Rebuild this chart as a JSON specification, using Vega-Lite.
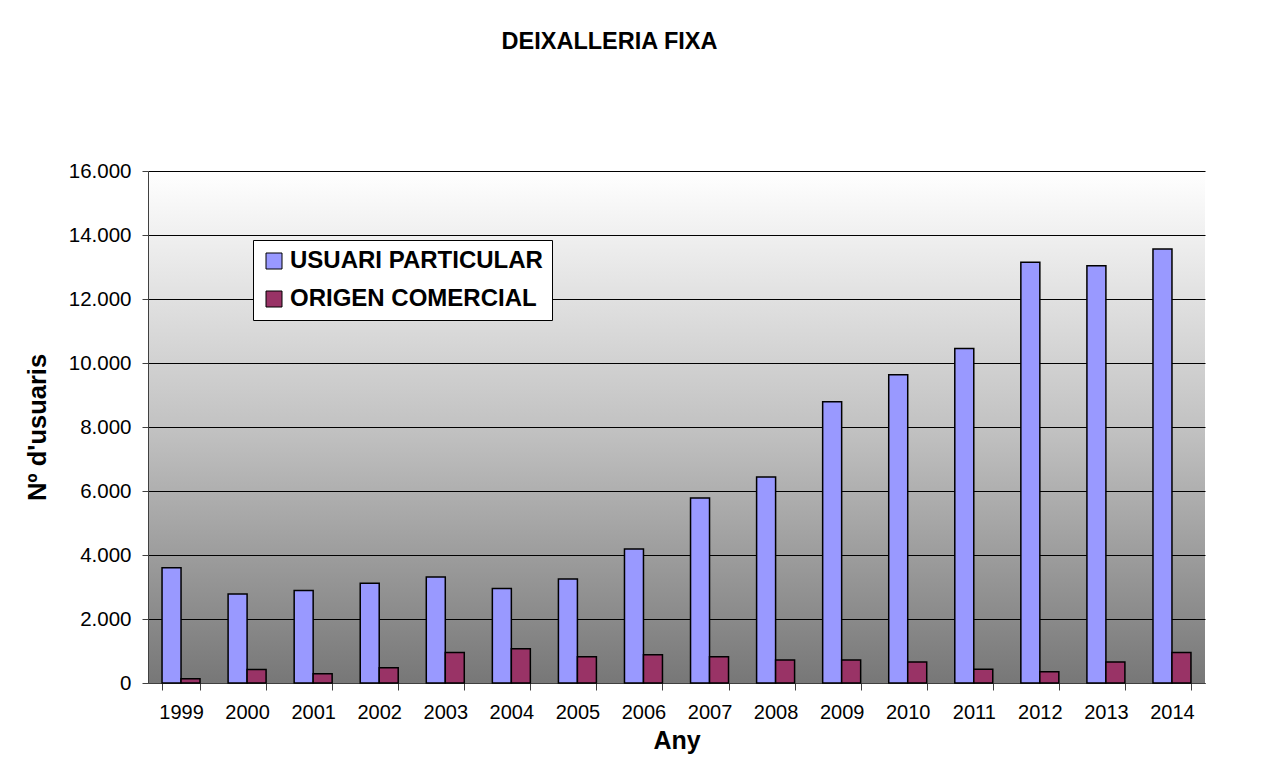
{
  "$schema": "https://vega.github.io/schema/vega-lite/v6.json",
  "width": 1057,
  "height": 512,
  "autosize": {"type": "none"},
  "padding": {"left": 148, "top": 171, "right": 74, "bottom": 80},
  "background": "#ffffff",
  "title": {
    "text": "DEIXALLERIA FIXA",
    "font": "Liberation Sans",
    "fontSize": 23.5,
    "fontWeight": "bold",
    "color": "#000000",
    "anchor": "middle",
    "frame": "group",
    "dx": -67,
    "baseline": "bottom",
    "offset": 84
  },
  "data": {
    "values": [
      {"Any": "1999", "tipus": "USUARI PARTICULAR", "usuaris": 3600},
      {"Any": "1999", "tipus": "ORIGEN COMERCIAL", "usuaris": 130},
      {"Any": "2000", "tipus": "USUARI PARTICULAR", "usuaris": 2780},
      {"Any": "2000", "tipus": "ORIGEN COMERCIAL", "usuaris": 420},
      {"Any": "2001", "tipus": "USUARI PARTICULAR", "usuaris": 2890},
      {"Any": "2001", "tipus": "ORIGEN COMERCIAL", "usuaris": 290},
      {"Any": "2002", "tipus": "USUARI PARTICULAR", "usuaris": 3120},
      {"Any": "2002", "tipus": "ORIGEN COMERCIAL", "usuaris": 480},
      {"Any": "2003", "tipus": "USUARI PARTICULAR", "usuaris": 3310},
      {"Any": "2003", "tipus": "ORIGEN COMERCIAL", "usuaris": 950},
      {"Any": "2004", "tipus": "USUARI PARTICULAR", "usuaris": 2950},
      {"Any": "2004", "tipus": "ORIGEN COMERCIAL", "usuaris": 1070},
      {"Any": "2005", "tipus": "USUARI PARTICULAR", "usuaris": 3250},
      {"Any": "2005", "tipus": "ORIGEN COMERCIAL", "usuaris": 820},
      {"Any": "2006", "tipus": "USUARI PARTICULAR", "usuaris": 4190},
      {"Any": "2006", "tipus": "ORIGEN COMERCIAL", "usuaris": 880},
      {"Any": "2007", "tipus": "USUARI PARTICULAR", "usuaris": 5780},
      {"Any": "2007", "tipus": "ORIGEN COMERCIAL", "usuaris": 820},
      {"Any": "2008", "tipus": "USUARI PARTICULAR", "usuaris": 6440},
      {"Any": "2008", "tipus": "ORIGEN COMERCIAL", "usuaris": 720},
      {"Any": "2009", "tipus": "USUARI PARTICULAR", "usuaris": 8790},
      {"Any": "2009", "tipus": "ORIGEN COMERCIAL", "usuaris": 720},
      {"Any": "2010", "tipus": "USUARI PARTICULAR", "usuaris": 9630},
      {"Any": "2010", "tipus": "ORIGEN COMERCIAL", "usuaris": 660},
      {"Any": "2011", "tipus": "USUARI PARTICULAR", "usuaris": 10450},
      {"Any": "2011", "tipus": "ORIGEN COMERCIAL", "usuaris": 430},
      {"Any": "2012", "tipus": "USUARI PARTICULAR", "usuaris": 13150},
      {"Any": "2012", "tipus": "ORIGEN COMERCIAL", "usuaris": 350},
      {"Any": "2013", "tipus": "USUARI PARTICULAR", "usuaris": 13040},
      {"Any": "2013", "tipus": "ORIGEN COMERCIAL", "usuaris": 660},
      {"Any": "2014", "tipus": "USUARI PARTICULAR", "usuaris": 13560},
      {"Any": "2014", "tipus": "ORIGEN COMERCIAL", "usuaris": 950}
    ]
  },
  "mark": {"type": "bar", "stroke": "#000000", "strokeWidth": 1.5},
  "encoding": {
    "x": {
      "field": "Any",
      "type": "ordinal",
      "scale": {"paddingInner": 0.425, "paddingOuter": 0.2125},
      "axis": {
        "title": "Any",
        "titleFont": "Liberation Sans",
        "titleFontSize": 25,
        "titleFontWeight": "bold",
        "titleColor": "#000000",
        "titleBaseline": "alphabetic",
        "titleY": 65,
        "labelAngle": 0,
        "labelFont": "Liberation Sans",
        "labelFontSize": 20,
        "labelColor": "#000000",
        "labelPadding": 12,
        "tickBand": "extent",
        "tickSize": 7,
        "tickColor": "#404040",
        "domainColor": "#404040",
        "grid": false
      }
    },
    "xOffset": {
      "field": "tipus",
      "type": "nominal",
      "sort": ["USUARI PARTICULAR", "ORIGEN COMERCIAL"],
      "scale": {"paddingInner": 0, "paddingOuter": 0}
    },
    "y": {
      "field": "usuaris",
      "type": "quantitative",
      "scale": {"domain": [0, 16000], "nice": false},
      "axis": {
        "title": "Nº d'usuaris",
        "titleFont": "Liberation Sans",
        "titleFontSize": 25.5,
        "titleFontWeight": "bold",
        "titleColor": "#000000",
        "titleAngle": -90,
        "titleBaseline": "alphabetic",
        "titleAlign": "center",
        "titleX": -103,
        "titleY": 256,
        "values": [0, 2000, 4000, 6000, 8000, 10000, 12000, 14000, 16000],
        "labelExpr": "replace(format(datum.value, ',d'), ',', '.')",
        "labelFont": "Liberation Sans",
        "labelFontSize": 20.5,
        "labelColor": "#000000",
        "labelPadding": 11,
        "tickSize": 6,
        "tickColor": "#404040",
        "domainColor": "#404040",
        "grid": true,
        "gridColor": "#000000",
        "gridWidth": 1,
        "gridOpacity": 1
      }
    },
    "color": {
      "field": "tipus",
      "type": "nominal",
      "sort": ["USUARI PARTICULAR", "ORIGEN COMERCIAL"],
      "scale": {"domain": ["USUARI PARTICULAR", "ORIGEN COMERCIAL"], "range": ["#9999FF", "#993366"]},
      "legend": {
        "title": null,
        "orient": "none",
        "legendX": 105,
        "legendY": 69,
        "symbolType": "square",
        "symbolSize": 256,
        "symbolStrokeColor": "#000000",
        "symbolStrokeWidth": 1,
        "symbolOpacity": 1,
        "labelFont": "Liberation Sans",
        "labelFontSize": 24,
        "labelFontWeight": "bold",
        "labelColor": "#000000",
        "labelLimit": 400,
        "labelOffset": 4,
        "rowPadding": 14,
        "padding": 9,
        "fillColor": "#ffffff",
        "strokeColor": "#000000"
      }
    }
  },
  "config": {
    "view": {
      "stroke": null,
      "fill": {
        "gradient": "linear",
        "x1": 0, "y1": 0, "x2": 0, "y2": 1,
        "stops": [
          {"offset": 0, "color": "#ffffff"},
          {"offset": 0.5, "color": "#c2c2c2"},
          {"offset": 1, "color": "#777777"}
        ]
      }
    }
  }
}
